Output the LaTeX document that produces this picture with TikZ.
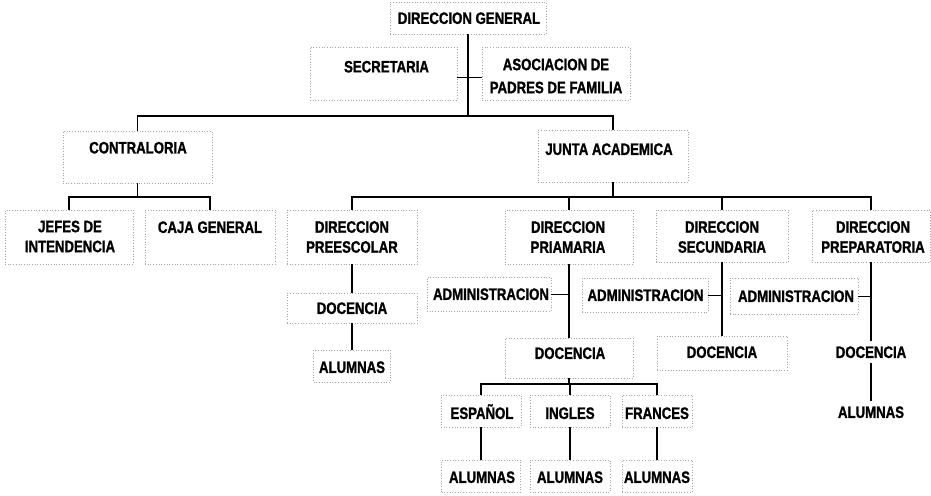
\documentclass[tikz,border=0pt]{standalone}
\usepackage{fontspec}
\newfontfamily\orgfont[FakeStretch=0.8,FakeBold=1.2]{Liberation Sans}
\begin{document}
\begin{tikzpicture}[x=1pt,y=-1pt,
  box/.style={draw=black!35, dash pattern=on 0.7pt off 2pt, line width=0.6pt, inner sep=0pt},
  txt/.style={font=\orgfont\bfseries\fontsize{16.5}{20}\selectfont, inner sep=0pt, align=center},
  txtone/.style={txt, text height=11.8pt, text depth=0pt},
  free/.style={txtone, inner ysep=5pt},
  link/.style={line width=1.5pt, black},
  tick/.style={line width=1pt, black}]
\useasboundingbox (0,0) rectangle (931,495);
% boxes
\node[box, minimum width=156pt, minimum height=32pt] (gen) at (468,18) {};
\node[box, minimum width=147pt, minimum height=53pt] (sec) at (383.5,73.5) {};
\node[box, minimum width=148pt, minimum height=53pt] (apf) at (556,73.5) {};
\node[box, minimum width=149pt, minimum height=52pt] (con) at (137.5,157) {};
\node[box, minimum width=150pt, minimum height=52pt] (jun) at (613,156) {};
\node[box, minimum width=128pt, minimum height=54pt] (jef) at (69,237) {};
\node[box, minimum width=130pt, minimum height=54pt] (caj) at (210,237) {};
\node[box, minimum width=130pt, minimum height=54pt] (pre) at (352,237) {};
\node[box, minimum width=128pt, minimum height=54pt] (pri) at (569,237) {};
\node[box, minimum width=132pt, minimum height=52pt] (secu) at (722,236) {};
\node[box, minimum width=118pt, minimum height=52pt] (prep) at (871,236) {};
\node[box, minimum width=130pt, minimum height=30pt] (doc1) at (352,308) {};
\node[box, minimum width=77pt, minimum height=32pt] (alu1) at (352,366) {};
\node[box, minimum width=124pt, minimum height=34pt] (adm1) at (489,294) {};
\node[box, minimum width=126pt, minimum height=34pt] (adm2) at (645,295) {};
\node[box, minimum width=128pt, minimum height=36pt] (adm3) at (794,296) {};
\node[box, minimum width=128pt, minimum height=40pt] (doc2) at (569,358) {};
\node[box, minimum width=130pt, minimum height=34pt] (doc3) at (722,353) {};
\node[box, minimum width=80pt, minimum height=32pt] (esp) at (481,411) {};
\node[box, minimum width=80pt, minimum height=32pt] (ing) at (570,411) {};
\node[box, minimum width=70pt, minimum height=32pt] (fra) at (657,411) {};
\node[box, minimum width=79pt, minimum height=32pt] (alu5) at (481,476) {};
\node[box, minimum width=80pt, minimum height=32pt] (alu6) at (570,476) {};
\node[box, minimum width=70pt, minimum height=32pt] (alu7) at (657,476) {};
% texts
\node[txtone] (gen-t) at (469,18) {DIRECCION GENERAL};
\node[txtone] (sec-t) at (386.5,66.5) {SECRETARIA};
\node[txt, font=\orgfont\bfseries\fontsize{16.5}{23}\selectfont] (apf-t) at (556,76) {ASOCIACION DE\\PADRES DE FAMILIA};
\node[txtone] (con-t) at (138,147.5) {CONTRALORIA};
\node[txtone] (jun-t) at (609,149) {JUNTA ACADEMICA};
\node[txt] (jef-t) at (70,236.5) {JEFES DE\\INTENDENCIA};
\node[txtone] (caj-t) at (210,227) {CAJA GENERAL};
\node[txt] (pre-t) at (352,237) {DIRECCION\\PREESCOLAR};
\node[txt] (pri-t) at (568,237) {DIRECCION\\PRIAMARIA};
\node[txt] (secu-t) at (722,237) {DIRECCION\\SECUNDARIA};
\node[txt] (prep-t) at (873,237) {DIRECCION\\PREPARATORIA};
\node[txtone] (doc1-t) at (352,308) {DOCENCIA};
\node[txtone] (alu1-t) at (352,367) {ALUMNAS};
\node[txtone] (adm1-t) at (491,294) {ADMINISTRACION};
\node[txtone] (adm2-t) at (645.5,295) {ADMINISTRACION};
\node[txtone] (adm3-t) at (796,296) {ADMINISTRACION};
\node[txtone] (doc2-t) at (570,353) {DOCENCIA};
\node[txtone] (doc3-t) at (722,352) {DOCENCIA};
\node[free] (doc4) at (871,352) {DOCENCIA};
\node[free] (alu4) at (871,412) {ALUMNAS};
\node[txtone] (esp-t) at (482,413) {ESPAÑOL};
\node[txtone] (ing-t) at (570,413) {INGLES};
\node[txtone] (fra-t) at (657,413) {FRANCES};
\node[txtone] (alu5-t) at (482,477) {ALUMNAS};
\node[txtone] (alu6-t) at (570,477) {ALUMNAS};
\node[txtone] (alu7-t) at (657,477) {ALUMNAS};
% connectors
\coordinate (b1) at (0,116);
\coordinate (b2) at (0,197);
\coordinate (b4) at (0,384);
\draw[link] (gen.south) -- (gen.south |- b1);
\draw[link] (con.north) -- (con.north |- b1) -- (jun.north |- b1) -- (jun.north);
\draw[tick] ([yshift=-3.5pt]sec.east) -- ([yshift=-3.5pt]apf.west);
\draw[link] (con.south) -- (con.south |- b2);
\draw[link] (jef.north) -- (jef.north |- b2) -- (caj.north |- b2) -- (caj.north);
\draw[link] (jun.south) -- (jun.south |- b2);
\draw[link] (pre.north) -- (pre.north |- b2) -- (prep.north |- b2) -- (prep.north);
\draw[link] (pri.north) -- (pri.north |- b2);
\draw[link] (secu.north) -- (secu.north |- b2);
\draw[link] (pre.south) -- (doc1.north);
\draw[link] (doc1.south) -- (alu1.north);
\draw[link] (pri.south) -- (doc2.north);
\draw[tick] (adm1.east) -- (adm1.east -| pri.south);
\draw[link] (secu.south) -- (doc3.north);
\draw[tick] (adm2.east) -- (adm2.east -| secu.south);
\draw[link] (prep.south) -- (doc4.north);
\draw[tick] (adm3.east) -- (adm3.east -| prep.south);
\draw[link] (doc4.south) -- (alu4.north);
\draw[link] (doc2.south) -- (doc2.south |- b4);
\draw[link] (esp.north) -- (esp.north |- b4) -- (fra.north |- b4) -- (fra.north);
\draw[link] (ing.north) -- (ing.north |- b4);
\draw[link] (esp.south) -- (alu5.north);
\draw[link] (ing.south) -- (alu6.north);
\draw[link] (fra.south) -- (alu7.north);
\end{tikzpicture}
\end{document}
